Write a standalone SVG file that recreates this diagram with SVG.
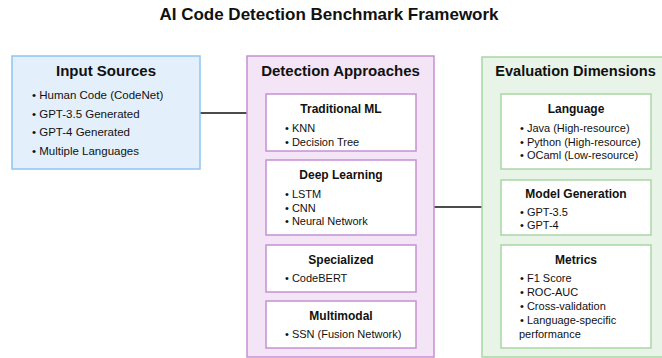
<svg xmlns="http://www.w3.org/2000/svg" width="662" height="358" viewBox="0 0 662 358">
<style>
text{font-family:"Liberation Sans",Arial,Helvetica,sans-serif;fill:#111}
.title{font-size:17px;font-weight:bold}
.h1{font-size:15px;font-weight:bold}
.h2{font-size:12px;font-weight:bold}
.b1{font-size:11.5px}
.b2{font-size:11px}
.mid{text-anchor:middle}
.blue{fill:#e3f0fb;stroke:#90c4f2;stroke-width:1.5}
.purple{fill:#f3e5f6;stroke:#c590d6;stroke-width:1.5}
.green{fill:#e8f4e7;stroke:#a8d6a3;stroke-width:1.5}
.subp{fill:#fff;stroke:#c590d6;stroke-width:1.5}
.subg{fill:#fff;stroke:#a8d6a3;stroke-width:1.5}
.conn{stroke:#111;stroke-width:1.6;fill:none}
</style>
<text class="title mid" x="329" y="19.5">AI Code Detection Benchmark Framework</text>
<g id="connectors">
<line class="conn" x1="200" y1="113" x2="247" y2="113"/>
<line class="conn" x1="434" y1="207" x2="482" y2="207"/>
</g>
<g id="input-sources">
<rect class="blue" x="12" y="56" width="188" height="113"/>
<text class="h1 mid" x="106" y="76">Input Sources</text>
<text class="b1" x="32" y="99">• Human Code (CodeNet)</text>
<text class="b1" x="32" y="117.5">• GPT-3.5 Generated</text>
<text class="b1" x="32" y="136">• GPT-4 Generated</text>
<text class="b1" x="32" y="155">• Multiple Languages</text>
</g>
<g id="detection-approaches">
<rect class="purple" x="247" y="56" width="187" height="301"/>
<text class="h1 mid" x="340.5" y="76">Detection Approaches</text>
</g>
<g id="traditional-ml">
<rect class="subp" x="266" y="94" width="150" height="57"/>
<text class="h2 mid" x="341" y="113">Traditional ML</text>
<text class="b2" x="285" y="132">• KNN</text>
<text class="b2" x="285" y="145.5">• Decision Tree</text>
</g>
<g id="deep-learning">
<rect class="subp" x="266" y="160" width="150" height="75"/>
<text class="h2 mid" x="341" y="179">Deep Learning</text>
<text class="b2" x="285" y="198">• LSTM</text>
<text class="b2" x="285" y="211.5">• CNN</text>
<text class="b2" x="285" y="225">• Neural Network</text>
</g>
<g id="specialized">
<rect class="subp" x="266" y="245" width="150" height="47"/>
<text class="h2 mid" x="341" y="263.5">Specialized</text>
<text class="b2" x="285" y="282">• CodeBERT</text>
</g>
<g id="multimodal">
<rect class="subp" x="266" y="301" width="150" height="47"/>
<text class="h2 mid" x="341" y="319.5">Multimodal</text>
<text class="b2" x="285" y="338">• SSN (Fusion Network)</text>
</g>
<g id="evaluation-dimensions">
<rect class="green" x="482" y="57" width="190" height="300"/>
<text class="h1 mid" x="575.5" y="76" style="font-size:14.6px">Evaluation Dimensions</text>
</g>
<g id="language">
<rect class="subg" x="501" y="94" width="150" height="75"/>
<text class="h2 mid" x="576" y="113">Language</text>
<text class="b2" x="520" y="132">• Java (High-resource)</text>
<text class="b2" x="520" y="145.5">• Python (High-resource)</text>
<text class="b2" x="520" y="159">• OCaml (Low-resource)</text>
</g>
<g id="model-generation">
<rect class="subg" x="501" y="180" width="150" height="55"/>
<text class="h2 mid" x="576" y="198">Model Generation</text>
<text class="b2" x="520" y="215.5">• GPT-3.5</text>
<text class="b2" x="520" y="229">• GPT-4</text>
</g>
<g id="metrics">
<rect class="subg" x="501" y="245" width="150" height="103"/>
<text class="h2 mid" x="576" y="263.5">Metrics</text>
<text class="b2" x="520" y="282">• F1 Score</text>
<text class="b2" x="520" y="296">• ROC-AUC</text>
<text class="b2" x="520" y="310">• Cross-validation</text>
<text class="b2" x="520" y="324">• Language-specific</text>
<text class="b2" x="519" y="338">performance</text>
</g>
</svg>
